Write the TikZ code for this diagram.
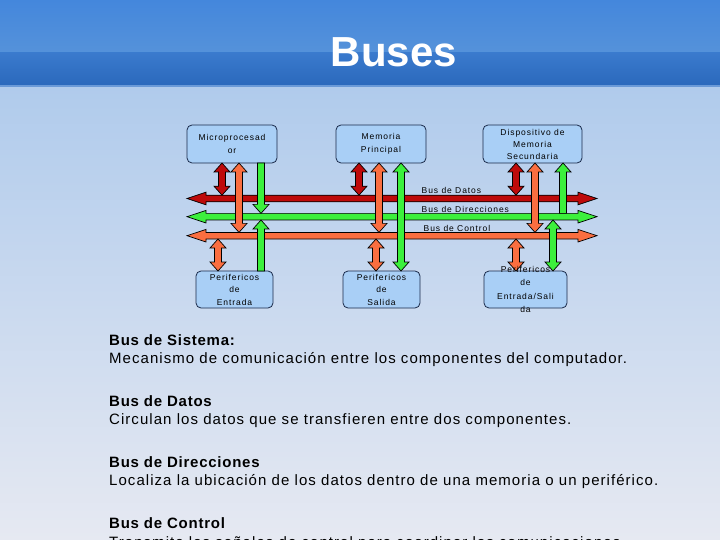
\documentclass[tikz,border=0pt]{standalone}
\usepackage{fontspec}
\setmainfont{Liberation Sans}
\newfontfamily\smallsp[LetterSpace=11]{Liberation Sans}
\newfontfamily\bodysp[LetterSpace=7]{Liberation Sans}
\newfontfamily\headsp[LetterSpace=5]{Liberation Sans}
\usetikzlibrary{calc}
\definecolor{hdrA}{HTML}{4487DC}
\definecolor{hdrB}{HTML}{5592DA}
\definecolor{hdrC}{HTML}{3A7ACD}
\definecolor{hdrD}{HTML}{2B69BC}
\definecolor{hdrL}{HTML}{6A9AD8}
\definecolor{bgTop}{HTML}{B0CBEC}
\definecolor{bgBot}{HTML}{E6E9F2}
\definecolor{boxFill}{HTML}{A9CFF6}
\definecolor{boxLine}{HTML}{1A2A4A}
\definecolor{datRed}{HTML}{BE0A0A}
\definecolor{dirGreen}{HTML}{3CF03C}
\definecolor{ctlOrange}{HTML}{FA6E40}
% fat vertical arrow: #1 x-source, #2 top, #3 bottom, #4 colour, #5 head at top, #6 head at bottom
\newcommand\fatv[6]{%
  \path[fatarrow,fill=#4] let \p1=(#2), \p2=(#3), \p3=(#1),
    \n1={#5*9pt}, \n2={#6*9pt}, \n3={3.5pt+#5*4.5pt}, \n4={3.5pt+#6*4.5pt} in
    (\x3-3.5pt,\y1-\n1) -- (\x3-\n3,\y1-\n1) -- (\x3,\y1) -- (\x3+\n3,\y1-\n1) -- (\x3+3.5pt,\y1-\n1)
    -- (\x3+3.5pt,\y2+\n2) -- (\x3+\n4,\y2+\n2) -- (\x3,\y2) -- (\x3-\n4,\y2+\n2) -- (\x3-3.5pt,\y2+\n2) -- cycle;}
% fat horizontal double arrow: #1 left end, #2 right end, #3 colour
\newcommand\fath[3]{%
  \path[fatarrow,fill=#3] let \p1=(#1), \p2=(#2) in
    (\x1,\y1) -- (\x1+19pt,\y1+6.3pt) -- (\x1+19pt,\y1+3.3pt) -- (\x2-19pt,\y1+3.3pt) -- (\x2-19pt,\y1+6.3pt)
    -- (\x2,\y1) -- (\x2-19pt,\y1-6.3pt) -- (\x2-19pt,\y1-3.3pt) -- (\x1+19pt,\y1-3.3pt) -- (\x1+19pt,\y1-6.3pt) -- cycle;}
\begin{document}
\begin{tikzpicture}[x=1pt,y=-1pt,
  fatarrow/.style={draw=black,line width=0.7pt,line join=miter},
  unit/.style={draw=boxLine,fill=boxFill,line width=0.8pt,rounded corners=5pt,inner sep=0pt,outer sep=0pt},
  unittext/.style={align=center,inner sep=0pt,font={\smallsp\fontsize{8.5}{12.5}\selectfont}},
  buslabel/.style={anchor=base west,inner sep=0pt,font={\smallsp\fontsize{8.5}{10}\selectfont}},
  heading/.style={anchor=base west,inner sep=0pt,font={\headsp\bfseries\fontsize{15}{18}\selectfont}},
  bodyline/.style={anchor=base west,inner sep=0pt,font={\bodysp\fontsize{15}{18}\selectfont}}]
\useasboundingbox (0,0) rectangle (720,540);
\clip (0,0) rectangle (720,540);
% background
\shade[top color=bgTop,bottom color=bgBot] (0,86) rectangle (720,540);
\shade[top color=hdrA,bottom color=hdrB] (0,0) rectangle (720,53);
\shade[top color=hdrC,bottom color=hdrD] (0,53) rectangle (720,85);
\fill[hdrL] (0,85) rectangle (720,87.5);
\node[anchor=base,inner sep=0pt,text=white,font={\bfseries\fontsize{42}{42}\selectfont}] (title) at (394,67) {Buses};
% units
\node[unit,minimum width=90pt,minimum height=38pt] (mp) at (232,144) {};
\node[unittext] (mpt) at (mp) {Microprocesad\\or};
\node[unit,minimum width=90pt,minimum height=38pt] (memp) at (381,144) {};
\node[unittext] (mempt) at (memp) {Memoria\\Principal};
\node[unit,minimum width=99pt,minimum height=38pt] (sec) at (532.5,144) {};
\node[unittext,font={\smallsp\fontsize{8.5}{12}\selectfont}] (sect) at (sec) {Dispositivo de\\Memoria\\Secundaria};
\node[unit,minimum width=77pt,minimum height=37pt] (pe) at (234.5,289.5) {};
\node[unittext] (pet) at (pe) {Perifericos\\de\\Entrada};
\node[unit,minimum width=77pt,minimum height=37pt] (ps) at (381.5,289.5) {};
\node[unittext] (pst) at (ps) {Perifericos\\de\\Salida};
\node[unit,minimum width=83pt,minimum height=37pt] (pes) at (525.5,289.5) {};
% buses
\coordinate (datosL) at (187,198.5); \coordinate (datosR) at (597,198.5);
\coordinate (dirL) at (187,216.7);   \coordinate (dirR) at (597,216.7);
\coordinate (ctrlL) at (187,235.7);  \coordinate (ctrlR) at (597,235.7);
\fath{datosL}{datosR}{datRed}
\fath{dirL}{dirR}{dirGreen}
\fath{ctrlL}{ctrlR}{ctlOrange}
\node[buslabel] (lbd) at (421.5,194) {Bus de Datos};
\node[buslabel] (lbdir) at (421.5,212.5) {Bus de Direcciones};
\node[buslabel] (lbc) at (423.5,231) {Bus de Control};
% microprocesador
\fatv{[xshift=-10pt]mp.south}{mp.south}{[yshift=3.3pt]datosL}{datRed}{1}{1}
\fatv{[xshift=7pt]mp.south}{mp.south}{[yshift=3.3pt]ctrlL}{ctlOrange}{1}{1}
\fatv{[xshift=29pt]mp.south}{mp.south}{[yshift=3.3pt]dirL}{dirGreen}{0}{1}
% perifericos de entrada
\fatv{[xshift=26.5pt]pe.north}{[yshift=-3.3pt]dirL}{pe.north}{dirGreen}{1}{0}
\fatv{[xshift=-16.5pt]pe.north}{[yshift=-3.3pt]ctrlL}{pe.north}{ctlOrange}{1}{1}
% memoria principal
\fatv{[xshift=-22pt]memp.south}{memp.south}{[yshift=3.3pt]datosL}{datRed}{1}{1}
\fatv{[xshift=-2pt]memp.south}{memp.south}{[yshift=3.3pt]ctrlL}{ctlOrange}{1}{1}
\fatv{[xshift=20pt]memp.south}{memp.south}{ps.north}{dirGreen}{1}{1}
% perifericos de salida
\fatv{[xshift=-5.5pt]ps.north}{[yshift=-3.3pt]ctrlL}{ps.north}{ctlOrange}{1}{1}
% memoria secundaria
\fatv{[xshift=-16.5pt]sec.south}{sec.south}{[yshift=3.3pt]datosL}{datRed}{1}{1}
\fatv{[xshift=2.5pt]sec.south}{sec.south}{[yshift=3.3pt]ctrlL}{ctlOrange}{1}{1}
\fatv{[xshift=30.5pt]sec.south}{sec.south}{[yshift=3.3pt]dirL}{dirGreen}{1}{0}
% perifericos de entrada/salida
\fatv{[xshift=-9.5pt]pes.north}{[yshift=-3.3pt]ctrlL}{pes.north}{ctlOrange}{1}{1}
\fatv{[xshift=27.5pt]pes.north}{[yshift=-3.3pt]dirL}{pes.north}{dirGreen}{1}{1}
\node[unittext,font={\smallsp\fontsize{8.5}{13.3}\selectfont}] (pest) at (pes) {Perifericos\\de\\Entrada/Sali\\da};
% text
\node[heading] (h1) at (109,345) {Bus de Sistema:};
\node[bodyline] (b1) at (109,363) {Mecanismo de comunicación entre los componentes del computador.};
\node[heading] (h2) at (109,406) {Bus de Datos};
\node[bodyline] (b2) at (109,424) {Circulan los datos que se transfieren entre dos componentes.};
\node[heading] (h3) at (109,467) {Bus de Direcciones};
\node[bodyline] (b3) at (109,485) {Localiza la ubicación de los datos dentro de una memoria o un periférico.};
\node[heading] (h4) at (109,528) {Bus de Control};
\node[bodyline] (b4) at (109,547) {Transmite las señales de control para coordinar las comunicaciones};
\end{tikzpicture}
\end{document}
